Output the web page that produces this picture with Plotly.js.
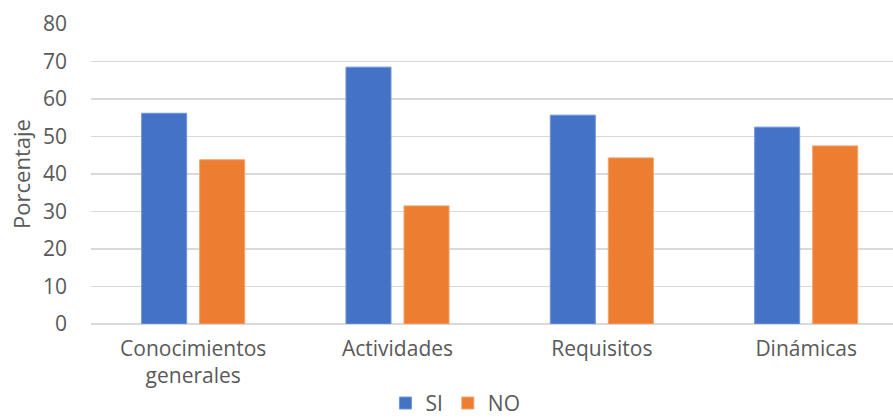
<!DOCTYPE html>
<html>
<head>
<meta charset="utf-8">
<script src="https://cdn.plot.ly/plotly-3.0.1.min.js"></script>
<style>html,body{margin:0;padding:0;background:#fff;}#chart{width:893px;height:418px;}</style>
</head>
<body>
<div id="chart"></div>
<script>
const categories = ["Conocimientos<br>generales", "Actividades", "Requisitos", "Dinámicas"];
const siValues = [56.2, 68.5, 55.7, 52.5];
const noValues = [43.8, 31.5, 44.3, 47.5];
const seriesNames = ["SI", "NO"];
const yTicks = [0, 10, 20, 30, 40, 50, 60, 70, 80];

const font = {family: "'Open Sans', sans-serif", size: 21, color: "#595959"};

const traces = [
  {type: "bar", name: seriesNames[0], x: categories, y: siValues,
   marker: {color: "#4472C4", line: {color: "#6f95d8", width: 1}}},
  {type: "bar", name: seriesNames[1], x: categories, y: noValues,
   marker: {color: "#ED7D31", line: {color: "#f4a26c", width: 1}}}
];

const layout = {
  width: 893, height: 418,
  margin: {l: 91, r: 0, t: 24, b: 94, autoexpand: false},
  paper_bgcolor: "#fff", plot_bgcolor: "#fff",
  font: font,
  barmode: "group",
  bargap: 0.432,
  bargroupgap: 0.224,
  showlegend: true,
  legend: {orientation: "h", xref: "container", x: 0.51, xanchor: "center",
           yref: "container", y: 0.035, yanchor: "middle", font: font, itemwidth: 30,
           tracegroupgap: 0, traceorder: "normal"},
  xaxis: {type: "category", range: [-0.5, 3.425], showgrid: false, zeroline: false, automargin: false,
          tickangle: 0, showline: false, ticks: "", tickfont: font, ticklabelstandoff: 10, fixedrange: true},
  yaxis: {range: [0, 80], tickvals: yTicks, ticktext: yTicks.map(String), automargin: false,
          showgrid: true, gridcolor: "#d9d9d9", gridwidth: 1.5,
          zeroline: true, zerolinecolor: "#d9d9d9", zerolinewidth: 1.5,
          showline: false, ticks: "", tickfont: font, ticklabelstandoff: 23,
          title: {text: "Porcentaje", font: {family: font.family, size: 22, color: font.color}, standoff: 6}}
};

Plotly.newPlot("chart", traces, layout, {displayModeBar: false, staticPlot: true});
</script>
</body>
</html>
